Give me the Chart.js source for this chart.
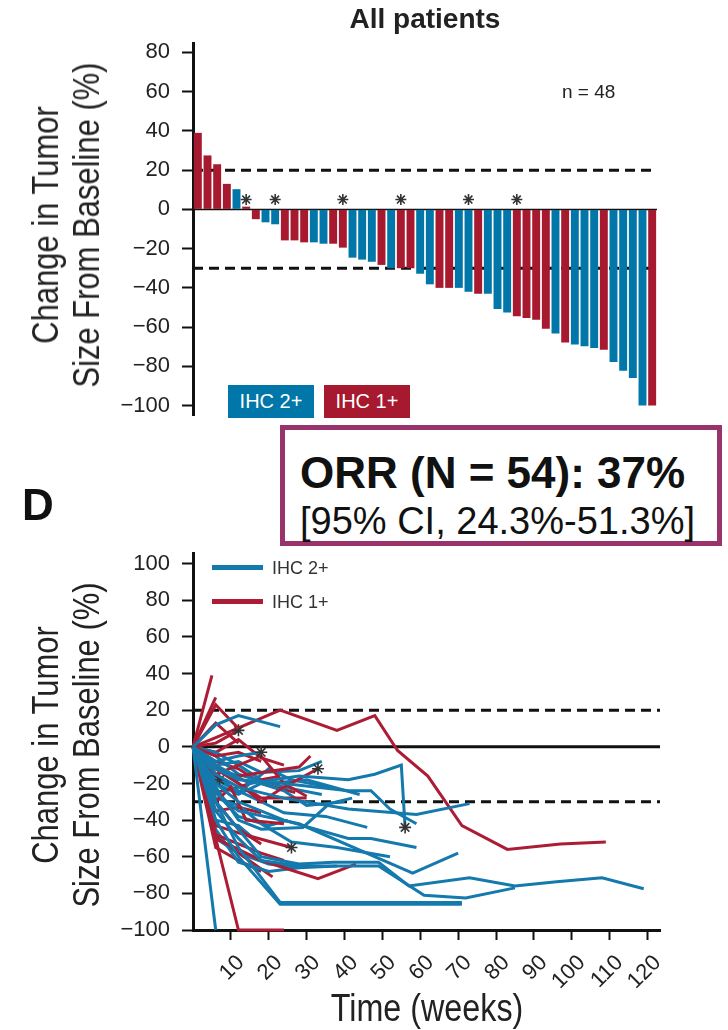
<!DOCTYPE html>
<html><head><meta charset="utf-8">
<script src="https://cdn.jsdelivr.net/npm/chart.js@4.4.1/dist/chart.umd.min.js"></script>
<style>
html,body{margin:0;padding:0;background:#fff;}
body{width:728px;height:1030px;position:relative;overflow:hidden;font-family:"Liberation Sans",Arial,sans-serif;color:#222;}
canvas{position:absolute;left:0;}
#c1{top:0;}
#c2{top:500px;}
.t{position:absolute;line-height:1;white-space:nowrap;}
.ax{position:absolute;white-space:nowrap;text-align:center;font-size:36px;line-height:41px;color:#222;transform:translate(-50%,-50%) rotate(-90deg) scaleX(0.86);}
.lg{position:absolute;top:385px;height:33px;width:86px;color:#fff;font-size:20px;display:flex;align-items:center;justify-content:center;}
.orr{position:absolute;left:280px;top:425px;width:432px;height:111px;border:5px solid #98336B;background:#fff;z-index:5;}
.ll{position:absolute;left:212px;width:51px;height:5px;}
</style>
</head><body>
<canvas id="c1" width="728" height="460"></canvas>
<canvas id="c2" width="728" height="530"></canvas>

<div class="t" style="left:325px;width:200px;text-align:center;top:5px;font-size:28px;font-weight:bold;color:#222;">All patients</div>
<div class="t" style="left:562px;top:82px;font-size:19px;color:#222;">n = 48</div>
<div class="lg" style="left:228px;background:#0077A8;">IHC 2+</div>
<div class="lg" style="left:324px;background:#A6192E;">IHC 1+</div>
<div class="ax" style="left:65.5px;top:225px;">Change in Tumor<br>Size From Baseline (%)</div>

<div class="orr">
  <div class="t" style="left:15px;top:21px;font-size:44px;font-weight:bold;color:#111;">ORR (N = 54): 37%</div>
  <div class="t" style="left:15px;top:72px;font-size:38px;color:#111;">[95% CI, 24.3%-51.3%]</div>
</div>
<div class="t" style="left:22px;top:483px;font-size:44px;font-weight:bold;color:#111;">D</div>

<div class="ll" style="top:565px;background:#1479AC;"></div>
<div class="t" style="left:272px;top:559px;font-size:18px;color:#333;">IHC 2+</div>
<div class="ll" style="top:599px;background:#AC1D35;"></div>
<div class="t" style="left:272px;top:593px;font-size:18px;color:#333;">IHC 1+</div>
<div class="ax" style="left:65.5px;top:745px;">Change in Tumor<br>Size From Baseline (%)</div>
<div class="t" style="left:427px;top:1008px;font-size:38px;color:#222;transform:translate(-50%,-50%) scaleX(0.85);">Time (weeks)</div>

<script>
// ---------- DATA ----------
const yTickValuesTop = [80, 60, 40, 20, 0, -20, -40, -60, -80, -100];
const yTickValuesBottom = [100, 80, 60, 40, 20, 0, -20, -40, -60, -80, -100];
const xTickValuesBottom = [10, 20, 30, 40, 50, 60, 70, 80, 90, 100, 110, 120];
const refDashedValues = [20, -30];
const refSolidValues = [0];

// waterfall: best % change per patient (n = 48)
const waterfallValues = [39, 27.5, 23, 13, 10.3, 1.4, -5, -6.6, -7.6, -15.8, -15.8, -16.8, -16.8, -17.5, -17.5, -19.5,
  -24.6, -25.6, -26.7, -28.3, -30, -30, -30, -32.8, -38.2, -40, -40, -40, -42, -43, -43, -50.8,
  -52.6, -54.5, -55.4, -56.2, -60.8, -63.3, -67.9, -68.9, -69.8, -70.6, -71.6, -77.8, -82.2, -85.9, -100, -100];
const waterfallGroup = ['1+','1+','1+','1+','2+','1+','1+','2+','2+','1+','1+','1+','2+','2+','1+','1+',
  '2+','2+','2+','1+','2+','1+','1+','2+','2+','1+','1+','2+','2+','1+','2+','2+',
  '2+','1+','1+','1+','1+','2+','1+','2+','2+','2+','1+','2+','2+','2+','2+','1+'];
const waterfallAsterisk = [0,0,0,0,0,1,0,0,1,0,0,0,0,0,0,1,0,0,0,0,0,1,0,0,0,0,0,0,1,0,0,0,0,1,0,0,0,0,0,0,0,0,0,0,0,0,0,0];
const asteriskLevel = 5;

// spider: [week, % change] per patient
const spiderIHC2 = [
  [[0,0],[6,12],[12,17],[23,11]],
  [[0,0],[6,-100]],
  [[0,0],[6,-8],[12,-5],[18,-3]],
  [[0,0],[6,-10],[15,-20],[28,-16],[41,-18],[48,-15],[55,-10],[56,-44]],
  [[0,0],[6,-12],[12,-18],[24,-20],[41,-24],[47,-24],[52,-34],[59,-42]],
  [[0,0],[6,-15],[12,-22],[24,-28],[41,-34],[59,-37],[73,-31]],
  [[0,0],[6,-20],[12,-30],[24,-40],[41,-50],[47,-50],[59,-55]],
  [[0,0],[6,-25],[12,-35],[28,-42],[58,-69],[70,-58]],
  [[0,0],[6,-30],[12,-45],[18,-60],[28,-64],[37,-63],[49,-63],[57,-76],[73,-71.5],[85,-76],[96,-73.6],[108,-71.5],[119,-77.5]],
  [[0,0],[6,-35],[12,-50],[18,-62],[28,-65],[49,-65],[61,-81],[72,-82.5],[85,-77]],
  [[0,0],[6,-30],[12,-55],[16,-66],[23,-85],[71,-85]],
  [[0,0],[6,-40],[12,-60],[23,-86],[71,-86]],
  [[0,0],[6,-5],[12,-15],[20,-20],[30,-18],[44,-26]],
  [[0,0],[6,-15],[12,-25],[20,-12],[26,-18],[36,-22]],
  [[0,0],[6,-18],[12,-24],[18,-30],[24,-36],[35,-38],[46,-44]],
  [[0,0],[6,-22],[12,-40],[18,-45],[29,-44],[36,-31],[42,-28]],
  [[0,0],[6,-28],[12,-32],[18,-42],[26,-52],[38,-55],[52,-60]],
  [[0,0],[6,-45],[12,-63],[20,-68],[28,-66]],
  [[0,0],[6,-10],[12,-8],[18,-14],[28,-13],[34,-8]],
  [[0,0],[6,-20],[12,-26],[18,-20],[24,-24],[30,-32],[40,-30]],
  [[0,0],[6,-3],[12,-10],[18,-18],[24,-22],[34,-26]],
  [[0,0],[6,-50],[12,-58],[20,-64],[28,-66],[38,-65]],
  [[0,0],[6,-40],[12,-43],[16,-50]],
  [[0,0],[6,-25],[12,-38],[20,-43],[25,-40]]
];
const spiderIHC1 = [
  [[0,0],[5,39]],
  [[0,0],[6,27]],
  [[0,0],[6,23],[12,10]],
  [[0,0],[6,13],[12,2]],
  [[0,0],[6,2],[12,9]],
  [[0,0],[6,5],[23,20],[38,9],[48,17],[54,-2],[62,-16],[71,-43],[83,-56],[97,-53],[109,-52]],
  [[0,0],[6,-5],[12,-3],[18,-8]],
  [[0,0],[6,-15],[12,-10],[18,-5],[24,-20],[30,-27]],
  [[0,0],[6,-12],[12,-16],[18,-14],[28,-11],[31,-5]],
  [[0,0],[7,-18]],
  [[0,0],[6,-10],[12,-20],[18,-30],[24,-22],[33,-12]],
  [[0,0],[6,-12],[12,-20],[18,-28],[30,-28]],
  [[0,0],[6,-30],[10,-22],[14,-40],[24,-42]],
  [[0,0],[6,-43],[12,-47],[19,-51],[26,-55]],
  [[0,0],[6,-48],[12,-53],[18,-58],[24,-62]],
  [[0,0],[6,-50],[12,-56],[18,-62],[24,-66],[33,-72],[43,-64]],
  [[0,0],[12,-100],[24,-100]],
  [[0,0],[6,-49],[12,-58],[21,-71]],
  [[0,0],[6,-35],[12,-33],[18,-36]],
  [[0,0],[6,-25],[12,-22],[18,-18],[23,-16]],
  [[0,0],[6,-8],[12,-12],[18,-20],[27,-25]],
  [[0,0],[6,-30],[12,-45],[18,-53]],
  [[0,0],[6,-55],[12,-62],[18,-68]],
  [[0,0],[6,-3],[12,4],[18,-6],[24,-10]]
];
const asteriskIHC2 = [2, 3];
const asteriskIHC1 = [4, 9, 10, 13];

// ---------- STYLE ----------
const BAR_BLUE = '#0077A8', BAR_RED = '#A6192E';
const LINE_BLUE = '#1479AC', LINE_RED = '#AC1D35';
const TICK_FONT = {family: "'Liberation Sans', Arial, sans-serif", size: 22};
const minusFmt = v => String(v).replace('-', '\u2212');

const refLinesPlugin = {
  id: 'refLines',
  beforeDatasetsDraw(chart, args, opts) {
    const {ctx, chartArea: {left, right}, scales: {y}} = chart;
    ctx.save();
    ctx.strokeStyle = '#111';
    (opts.lines || []).forEach(l => {
      ctx.lineWidth = l.width;
      ctx.setLineDash(l.dash || []);
      const py = y.getPixelForValue(l.value);
      ctx.beginPath(); ctx.moveTo(left, py); ctx.lineTo(right, py); ctx.stroke();
    });
    ctx.restore();
  }
};

function yScale(ticks, min, max, width) {
  return {
    type: 'linear', min, max,
    afterBuildTicks: s => { s.ticks = ticks.map(v => ({value: v})); },
    afterFit: s => { s.width = width; },
    ticks: {font: TICK_FONT, color: '#222', padding: 12, callback: v => minusFmt(v)},
    grid: {display: true, drawOnChartArea: false, drawTicks: true, tickLength: 11, tickWidth: 2, tickColor: '#111'},
    border: {display: true, color: '#111', width: 3},
    title: {display: false}
  };
}

// ---------- TOP: waterfall ----------
new Chart(document.getElementById('c1'), {
  data: {
    labels: waterfallValues.map((_, i) => i + 1),
    datasets: [
      {
        type: 'line', data: waterfallAsterisk.map(a => a ? asteriskLevel : null),
        showLine: false, pointStyle: 'star', pointRadius: 5.5, pointBorderColor: '#333', pointBorderWidth: 1.6,
        pointBackgroundColor: '#333', pointHoverRadius: 5.5
      },
      {
        type: 'bar', data: waterfallValues,
        backgroundColor: waterfallGroup.map(g => g === '2+' ? BAR_BLUE : BAR_RED),
        barPercentage: 1, categoryPercentage: 0.82, borderWidth: 0
      }
    ]
  },
  options: {
    responsive: false, animation: false, devicePixelRatio: 1,
    layout: {padding: {top: 43, bottom: 45, left: 0, right: 71}},
    plugins: {legend: {display: false}, tooltip: {enabled: false},
      refLines: {lines: [
        ...refSolidValues.map(v => ({value: v, width: 1.5})),
        ...refDashedValues.map(v => ({value: v, width: 3, dash: [10, 6]}))
      ]}},
    scales: {
      x: {type: 'category', display: false, offset: true},
      y: yScale(yTickValuesTop, -104.8, 84.8, 193)
    }
  },
  plugins: [refLinesPlugin]
});

// ---------- BOTTOM: spider ----------
function mk(pts, color, star) {
  return {
    type: 'line', data: pts.map(([x, y]) => ({x, y})),
    borderColor: color, borderWidth: 3, tension: 0, fill: false,
    pointStyle: 'star', pointBorderColor: '#333', pointBackgroundColor: '#333', pointBorderWidth: 1.6,
    pointRadius: ctx => (star && ctx.dataIndex === pts.length - 1) ? 6 : 0,
    pointHoverRadius: 0, clip: 3
  };
}
const spiderSets = [];
for (let i = 0; i < Math.max(spiderIHC1.length, spiderIHC2.length); i++) {
  if (spiderIHC2[i]) spiderSets.push(mk(spiderIHC2[i], LINE_BLUE, asteriskIHC2.includes(i)));
  if (spiderIHC1[i]) spiderSets.push(mk(spiderIHC1[i], LINE_RED, asteriskIHC1.includes(i)));
}

new Chart(document.getElementById('c2'), {
  type: 'line',
  data: {datasets: spiderSets},
  options: {
    responsive: false, animation: false, devicePixelRatio: 1,
    layout: {padding: {top: 53, bottom: 0, left: 0, right: 68}},
    plugins: {legend: {display: false}, tooltip: {enabled: false},
      refLines: {lines: [
        ...refSolidValues.map(v => ({value: v, width: 3})),
        ...refDashedValues.map(v => ({value: v, width: 3, dash: [10, 6]}))
      ]}},
    scales: {
      x: {
        type: 'linear', min: 0, max: 123.3,
        afterBuildTicks: s => { s.ticks = xTickValuesBottom.map(v => ({value: v})); },
        afterFit: s => { s.height = 100; },
        ticks: {font: {family: "'Liberation Sans', Arial, sans-serif", size: 22}, color: '#222', minRotation: 45, maxRotation: 45, padding: 10, labelOffset: 10, autoSkip: false},
        grid: {display: true, drawOnChartArea: false, drawTicks: true, tickLength: 10, tickWidth: 2, tickColor: '#111'},
        border: {display: true, color: '#111', width: 3},
        title: {display: false}
      },
      y: yScale(yTickValuesBottom, -100, 105.8, 193)
    }
  },
  plugins: [refLinesPlugin]
});
</script>
</body></html>
